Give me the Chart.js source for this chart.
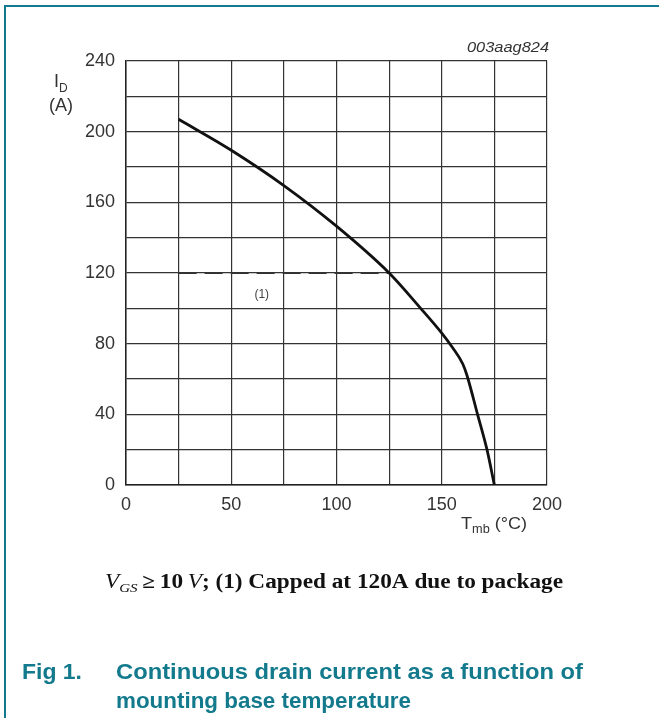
<!DOCTYPE html>
<html>
<head>
<meta charset="utf-8">
<script src="https://cdn.jsdelivr.net/npm/chart.js@4/dist/chart.umd.min.js"></script>
<style>
  body { margin: 0; background: #fff; }
  #wrap { position: relative; width: 659px; height: 718px; }
</style>
</head>
<body>
<div id="wrap"><canvas id="derating" width="659" height="718"></canvas></div>
<script>
// values
const tmb = [25, 50, 75, 100, 125, 140, 150, 155, 160, 162, 167, 171.5, 175];
const drainCurrent = [207, 189.5, 169.5, 146.5, 120, 100, 86, 78, 68.5, 62, 40, 20, 0];
const capTmb = [25, 125];
const capCurrent = [120, 120];
const xLabels = [0, 50, 100, 150, 200];
const yLabels = [0, 40, 80, 120, 160, 200, 240];

const teal = '#127a8c';
const sans = "Arial, 'Liberation Sans', sans-serif";
const serif = "'Times New Roman', 'Liberation Serif', serif";

// draw a run of [text, font, dy] pieces starting at x0, stretched to a given width
function fitRun(c, pieces, x0, baseline, width) {
    let total = 0;
    pieces.forEach(p => { c.font = p[1]; total += c.measureText(p[0]).width; });
    const sx = width / total;
    c.save();
    c.translate(x0, baseline);
    c.scale(sx, 1);
    let px = 0;
    pieces.forEach(p => { c.font = p[1]; c.fillText(p[0], px, p[2] || 0); px += c.measureText(p[0]).width; });
    c.restore();
}

const extras = {
    id: 'extras',
    afterDraw(chart) {
        const c = chart.ctx;
        const x = chart.scales.x, y = chart.scales.y;
        c.save();
        // frame
        c.strokeStyle = teal;
        c.lineWidth = 2;
        c.beginPath();
        c.moveTo(5, 718);
        c.lineTo(5, 6);
        c.lineTo(659, 6);
        c.stroke();

        c.fillStyle = '#333';
        c.textBaseline = 'alphabetic';
        c.textAlign = 'left';
        fitRun(c, [['003aag824', 'italic 15px ' + sans]], 467, 52, 82);

        // y title
        c.font = '18px ' + sans;
        c.fillText('I', 54, 87);
        c.font = '12px ' + sans;
        c.fillText('D', 59, 92);
        c.font = '18px ' + sans;
        c.fillText('(A)', 49, 111);

        // x title
        fitRun(c, [['T', '17px ' + sans], ['mb', '12px ' + sans, 4], [' (°C)', '17px ' + sans]], 461, 529, 66);

        // note (1)
        c.font = '12px ' + sans;
        c.textAlign = 'center';
        c.fillStyle = '#444';
        c.fillText('(1)', x.getPixelForValue(64.5), y.getPixelForValue(106));

        // condition line
        c.fillStyle = '#111';
        c.textAlign = 'left';
        fitRun(c, [
            ['V', 'italic 20px ' + serif],
            ['GS', 'italic 13px ' + serif, 4],
            ['\u2009≥\u200910\u2009', 'bold 20px ' + serif],
            ['V', 'italic 20px ' + serif],
            ['; (1) Capped at 120A due to package', 'bold 20px ' + serif]
        ], 105, 588, 458);

        // figure caption
        c.fillStyle = teal;
        fitRun(c, [['Fig 1.', 'bold 22px ' + sans]], 22, 679, 60);
        fitRun(c, [['Continuous drain current as a function of', 'bold 22px ' + sans]], 116, 679, 467);
        fitRun(c, [['mounting base temperature', 'bold 22px ' + sans]], 116, 708, 295);
        c.restore();
    }
};

new Chart(document.getElementById('derating'), {
    type: 'line',
    data: {
        datasets: [
            {
                label: 'ID',
                data: tmb.map((t, i) => ({ x: t, y: drainCurrent[i] })),
                borderColor: '#111',
                borderWidth: 2.8,
                pointRadius: 0,
                cubicInterpolationMode: 'monotone',
                fill: false
            },
            {
                label: 'cap',
                data: capTmb.map((t, i) => ({ x: t, y: capCurrent[i] })),
                borderColor: '#333',
                borderWidth: 2.2,
                borderDash: [18, 8],
                pointRadius: 0,
                fill: false
            }
        ]
    },
    options: {
        responsive: false,
        animation: false,
        layout: { padding: { left: 0, right: 112, top: 61, bottom: 0 } },
        plugins: { legend: { display: false }, tooltip: { enabled: false } },
        scales: {
            x: {
                type: 'linear',
                min: 0,
                max: 200,
                afterFit(s) { s.height = 233; },
                ticks: {
                    stepSize: 25,
                    padding: 9,
                    color: '#333',
                    font: { family: sans, size: 18 },
                    maxRotation: 0,
                    callback: v => xLabels.includes(v) ? String(v) : ''
                },
                grid: { color: '#333', lineWidth: 1.2, drawTicks: false },
                border: { color: '#222', width: 1.5 }
            },
            y: {
                type: 'linear',
                min: 0,
                max: 240,
                afterFit(s) { s.width = 126; },
                ticks: {
                    stepSize: 20,
                    padding: 11,
                    color: '#333',
                    font: { family: sans, size: 18 },
                    callback: v => yLabels.includes(v) ? String(v) : ''
                },
                grid: { color: '#333', lineWidth: 1.2, drawTicks: false },
                border: { color: '#222', width: 1.5 }
            }
        }
    },
    plugins: [extras]
});
</script>
</body>
</html>
